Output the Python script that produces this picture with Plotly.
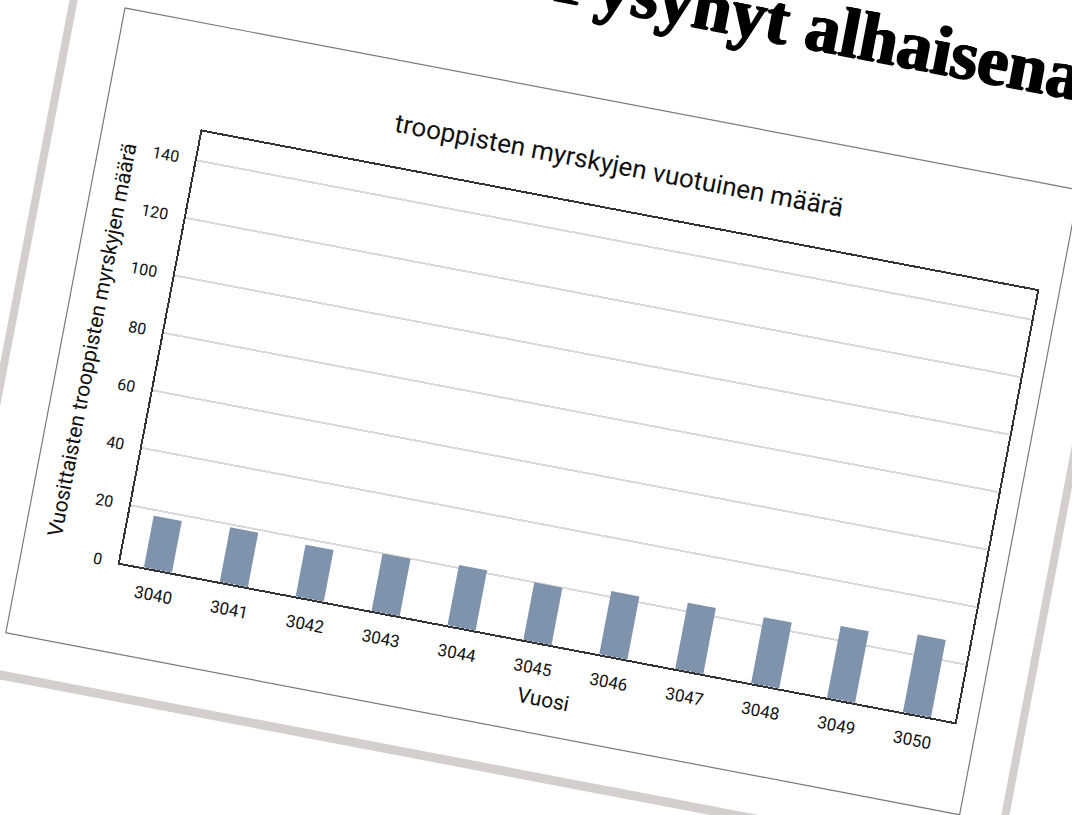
import plotly.graph_objects as go

# data
years = ["3040", "3041", "3042", "3043", "3044", "3045", "3046", "3047", "3048", "3049", "3050"]
storms = [18, 19, 18, 20, 21, 20, 22, 23, 23, 25, 27]
y_ticks = [0, 20, 40, 60, 80, 100, 120, 140]

chart_title = "trooppisten myrskyjen vuotuinen määrä"
y_title = "Vuosittaisten trooppisten myrskyjen määrä"
x_title = "Vuosi"
headline = "Pysynyt alhaisena"

# sheet geometry (unrotated pixels, card top-left = 0,0)
W, H = 1230, 1030
OX, OY = 130, 200          # where the card corner sits inside the figure
PL, PR, PT, PB = 99, 949, 107, 546   # plot area on the sheet


def fx(u):
    return (u - PL) / (PR - PL)


def fy(v):
    return (PB - v) / (PB - PT)


def rect(x0, y0, x1, y1, **kw):
    return dict(type="rect", xref="paper", yref="paper", layer="below",
                x0=fx(x0), x1=fx(x1), y0=fy(y0), y1=fy(y1), **kw)


fig = go.Figure()
fig.add_trace(go.Bar(x=years, y=storms, marker_color="#7f93ad",
                     marker_line_width=0, hoverinfo="x+y"))

shapes = [
    # paper edges (thickness of the sheet)
    rect(-56, -300, -48, 683, fillcolor="#d4cecc", line_width=0),
    rect(1012, -300, 1020, 683, fillcolor="#d4cecc", line_width=0),
    rect(-56, 674, 1020, 683, fillcolor="#d4cecc", line_width=0),
    # card border
    rect(0, 0, 971, 636, fillcolor="rgba(0,0,0,0)", line=dict(color="#7a7a7a", width=1.2)),
]

annotations = [
    dict(text=chart_title, x=fx(515), y=fy(62), xref="paper", yref="paper",
         showarrow=False, xanchor="center", yanchor="middle",
         font=dict(family="Roboto", size=26, color="#111111")),
    dict(text=y_title, x=fx(30), y=fy(332), xref="paper", yref="paper",
         showarrow=False, textangle=-90, xanchor="center", yanchor="middle",
         font=dict(family="Roboto", size=21, color="#111111")),
    dict(text=x_title, x=fx(540), y=fy(601), xref="paper", yref="paper",
         showarrow=False, xanchor="center", yanchor="middle",
         font=dict(family="Roboto", size=21, color="#111111")),
    dict(text="<b>" + headline + "</b>", x=fx(416), y=fy(-71), xref="paper", yref="paper",
         showarrow=False, xanchor="left", yanchor="bottom",
         font=dict(family="Liberation Serif", size=70, color="#000000",
                   shadow="1px 0px 0px #000, -1px 0px 0px #000, 0px 1px 0px #000")),
]

fig.update_layout(
    width=W, height=H,
    margin=dict(l=OX + PL, r=W - OX - PR, t=OY + PT, b=H - OY - PB, autoexpand=False),
    paper_bgcolor="#ffffff", plot_bgcolor="#ffffff",
    showlegend=False, bargap=0.63,
    shapes=shapes, annotations=annotations,
    font=dict(family="Roboto", color="#111111"),
)
fig.update_xaxes(type="category", showgrid=False, showline=True, mirror=True,
                 linecolor="#333333", linewidth=1.8, ticks="",
                 tickfont=dict(size=17, color="#111111"), ticklabelstandoff=9)
fig.update_yaxes(range=[0, 150], tickvals=y_ticks, showgrid=True,
                 gridcolor="#d9d9d9", gridwidth=2, zeroline=False,
                 showline=True, mirror=True, linecolor="#333333", linewidth=1.6,
                 ticks="", tickfont=dict(size=16, color="#111111"), ticklabelstandoff=13)

# the photo shows the sheet turned about 11 degrees clockwise
rotate_js = """
var gd = document.getElementById('{plot_id}');
document.documentElement.style.overflow = 'hidden';
document.body.style.overflow = 'hidden';
document.body.style.margin = '0';
document.body.style.background = '#ffffff';
gd.style.position = 'absolute';
gd.style.left = '-5px';
gd.style.top = '-192px';
gd.style.transformOrigin = '130px 200px';
gd.style.transform = 'rotate(10.8deg)';
"""

fig.write_html("out.html", config={"displayModeBar": False}, post_script=rotate_js)
